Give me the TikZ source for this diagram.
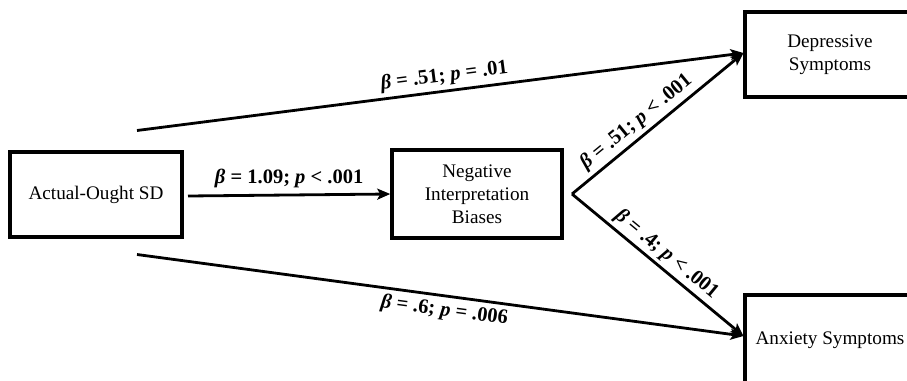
\documentclass[tikz,border=0pt]{standalone}
\usepackage{fontspec}
\setmainfont{Liberation Serif}
\usetikzlibrary{arrows.meta}
\tikzset{
  boxnode/.style={draw, line width=3.5pt, align=center, font=\fontsize{19.2}{23}\selectfont, inner sep=2pt},
  conn/.style={line width=2.8pt, -{Stealth[length=13pt,width=11pt,inset=3pt]}},
  lbl/.style={font=\fontsize{20.5}{24}\selectfont\bfseries, inner sep=4pt}
}
\newcommand{\bb}{\textbf{\textit{β}}}
\newcommand{\pp}{\textbf{\textit{p}}}
\begin{document}
\begin{tikzpicture}[x=1pt,y=-1pt]
\useasboundingbox (0,0) rectangle (907,380);
\clip (0,0) rectangle (907,380);
\node[boxnode, minimum width=172pt, minimum height=85pt] (aos) at (96,194.5) {Actual-Ought SD};
\node[boxnode, minimum width=170pt, minimum height=88pt] (nib) at (477,194) {Negative\\Interpretation\\Biases};
\node[boxnode, minimum width=170pt, minimum height=85pt] (dep) at (830,54.5) {Depressive\\Symptoms};
\node[boxnode, minimum width=170pt, minimum height=90pt] (anx) at (830,340) {Anxiety Symptoms};

\coordinate (s1) at (137,130.5);
\coordinate (s2) at (137,254.5);
\coordinate (m0) at (188,196);
\coordinate (v) at (572,194);
\coordinate (tdep) at (743.5,53);
\coordinate (tanx) at (743.5,336);

\draw[conn] (s1) -- node[lbl, above, sloped, pos=0.51] {\bb{} = .51; \pp{} = .01} (tdep);
\draw[conn] (s2) -- node[lbl, below, sloped, pos=0.51] {\bb{} = .6; \pp{} = .006} (tanx);
\draw[conn] (m0) -- node[lbl, above, inner sep=6pt] {\bb{} = 1.09; \pp{} < .001} (nib.west);
\draw[conn] (v) -- node[lbl, above, sloped, pos=0.43] {\bb{} = .51; \pp{} < .001} (tdep);
\draw[conn] (v) -- node[lbl, above, sloped, pos=0.5, inner sep=3pt] {\bb{} = .4; \pp{} < .001} (tanx);
\end{tikzpicture}
\end{document}
